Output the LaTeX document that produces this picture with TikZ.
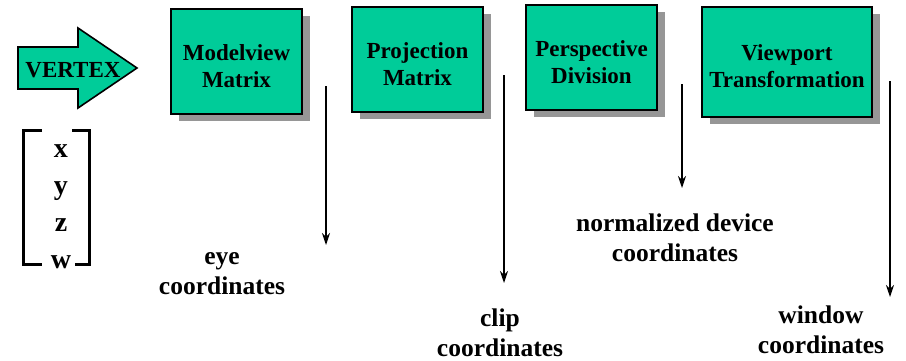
\documentclass[tikz,border=0pt]{standalone}
\usepackage{fontspec}
\setmainfont{Liberation Serif}
\usetikzlibrary{
  arrows.meta,
  shadows,
}
\definecolor{stagegreen}{RGB}{0,204,153}
\definecolor{shadowgray}{RGB}{150,150,150}
\tikzset{
  stage/.style={
    rectangle,
    minimum width=65.5pt,
    minimum height=52.5pt,
    inner sep=0pt,
    text height=26pt,
    align=center,
    draw=black,
    line width=0.8pt,
    fill=stagegreen,
    font=\fontsize{11.5}{13.5}\selectfont\bfseries,
    drop shadow={shadow xshift=4pt, shadow yshift=-3.5pt,
      fill=shadowgray, opacity=1},
  },
  vertexarrow/.style={
    draw=black,
    line width=0.8pt,
    fill=stagegreen,
  },
  vertextext/.style={
    inner sep=0pt,
    font=\fontsize{11.5}{13.5}\selectfont\bfseries,
  },
  bracket/.style={
    line width=1.5pt,
  },
  component/.style={
    inner sep=0pt,
    font=\fontsize{14}{16}\selectfont\bfseries,
  },
  coords/.style={
    align=center,
    inner sep=0pt,
    font=\fontsize{12.75}{15}\selectfont\bfseries,
  },
  arrow/.style={
    line width=0.6pt,
    -{Stealth[length=6pt,width=4pt,inset=2pt]},
  },
}

\begin{document}
\begin{tikzpicture}[x=0.5pt, y=-0.5pt]

  \useasboundingbox (0,0) rectangle (906,360);

  % Incoming vertex
  \draw [vertexarrow] (18,47) -- (78,47) -- (78,28) -- (137,68)
    -- (78,108) -- (78,89) -- (18,89) -- cycle;
  \node (vertex) [vertextext] at (73,70) {VERTEX};

  % Vertex components
  \draw [bracket] (42,130) -- (23,130) -- (23,264) -- (42,264);
  \draw [bracket] (72,130) -- (89,130) -- (89,264) -- (75,264);
  \foreach \c [count=\i] in {x,y,z,w}
    \node (comp\c) [component, anchor=base] at (61,120+37*\i) {\c};

  % Pipeline stages
  \node (model) [stage] at (236.5,61.5) {Modelview\\Matrix};
  \node (proj) [stage] at (417.5,59.5) {Projection\\Matrix};
  \node (persp) [stage] at (591.5,57.5) {Perspective\\Division};
  \node (viewp) [stage, minimum width=85pt, minimum height=55pt]
    at (787,62) {Viewport\\Transformation};

  % Coordinate systems
  \node (eye) [coords] at (222,274) {eye\\coordinates};
  \node (clip) [coords] at (500,333) {clip\\coordinates};
  \node (ndc) [coords] at (675,238) {normalized device\\coordinates};
  \node (window) [coords] at (821,330) {window\\coordinates};

  % Arrows
  \coordinate (eyeFrom) at (326,86);
  \coordinate (eyeTo) at (326,245);
  \coordinate (clipFrom) at (504,75);
  \coordinate (clipTo) at (504,283);
  \coordinate (ndcFrom) at (682,84);
  \coordinate (ndcTo) at (682,188);
  \coordinate (windowFrom) at (890,81);
  \coordinate (windowTo) at (890,297);
  \draw [arrow] (eyeFrom) -- (eyeTo);
  \draw [arrow] (clipFrom) -- (clipTo);
  \draw [arrow] (ndcFrom) -- (ndcTo);
  \draw [arrow] (windowFrom) -- (windowTo);

\end{tikzpicture}
\end{document}
